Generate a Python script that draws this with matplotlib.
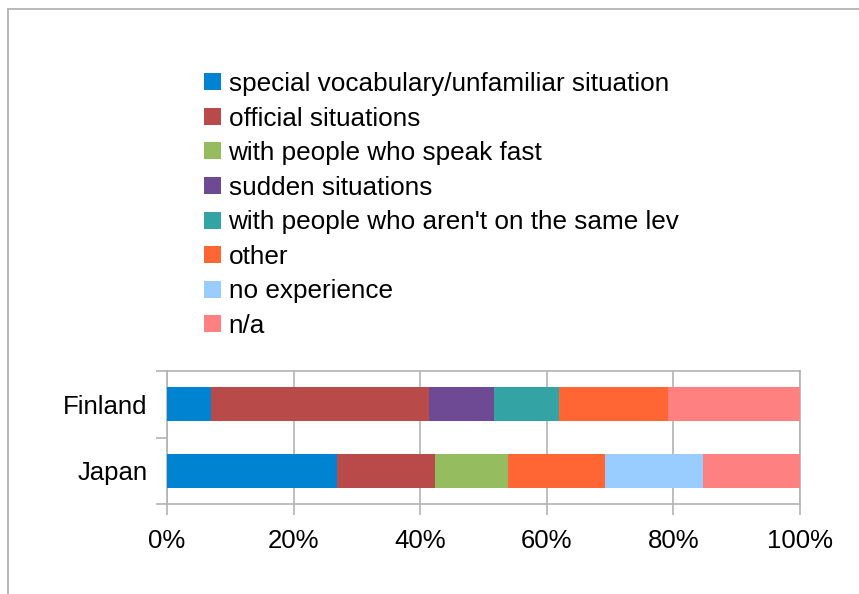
import matplotlib
matplotlib.use("Agg")
import matplotlib.pyplot as plt
from matplotlib.patches import Patch
from matplotlib.lines import Line2D
import numpy as np

plt.rcParams['font.family'] = ['Liberation Sans', 'DejaVu Sans']

countries = ["Japan", "Finland"]
series = ["special vocabulary/unfamiliar situation", "official situations",
          "with people who speak fast", "sudden situations",
          "with people who aren't on the same lev", "other",
          "no experience", "n/a"]
# percentages per series: [Japan, Finland]
special_vocab = [26.9, 6.9]
official = [15.4, 34.5]
speak_fast = [11.5, 0.0]
sudden = [0.0, 10.3]
not_same_level = [0.0, 10.3]
other = [15.4, 17.2]
no_experience = [15.4, 0.0]
na = [15.4, 20.8]
values = [special_vocab, official, speak_fast, sudden, not_same_level, other, no_experience, na]
colors = ["#0084d1", "#b84a4a", "#95bc5e", "#6e4a94", "#33a3a3", "#ff6633", "#99ccff", "#ff8080"]
xticks = [0, 20, 40, 60, 80, 100]
xticklabels = ["0%", "20%", "40%", "60%", "80%", "100%"]

fig = plt.figure(figsize=(8.59, 5.94), dpi=100)
ax = fig.add_axes([167/859, 1-504/594, 633/859, 133/594])

y = np.arange(len(countries))
left = np.zeros(len(countries))
for vals, col, name in zip(values, colors, series):
    ax.barh(y, vals, left=left, height=0.51, color=col, label=name, zorder=3)
    left += np.array(vals)

ax.set_xlim(0, 100)
ax.set_ylim(-0.5, 1.5)
gray = "#b3b3b3"
ax.set_xticks(xticks)
ax.set_xticklabels(xticklabels, fontsize=18.5)
ax.xaxis.grid(True, color=gray, linewidth=1.2, zorder=0)
ax.set_yticks(y)
ax.set_yticklabels(countries, fontsize=18.5)
ax.set_yticks([-0.5, 0.5, 1.5], minor=True)
ax.tick_params(axis='y', which='major', length=0, pad=14)
ax.tick_params(axis='y', which='minor', length=8, color=gray, width=1.2)
ax.tick_params(axis='x', length=8, color=gray, width=1.2, pad=10)
for s in ax.spines.values():
    s.set_color(gray)
    s.set_linewidth(1.2)

handles = [Patch(facecolor=c, edgecolor='none') for c in colors]
fig.legend(handles, series, loc='upper left', bbox_to_anchor=(204/859, 1-72/594),
           frameon=False, fontsize=18.8, handlelength=0.66, handleheight=0.62,
           handletextpad=0.28, labelspacing=0.405, borderaxespad=0, borderpad=0)

fig.add_artist(Line2D([8/859, 8/859], [0, 1-9/594], color=gray, linewidth=1.3))
fig.add_artist(Line2D([8/859, 1], [1-9/594, 1-9/594], color=gray, linewidth=1.3))

fig.savefig("out.png", dpi=100)
